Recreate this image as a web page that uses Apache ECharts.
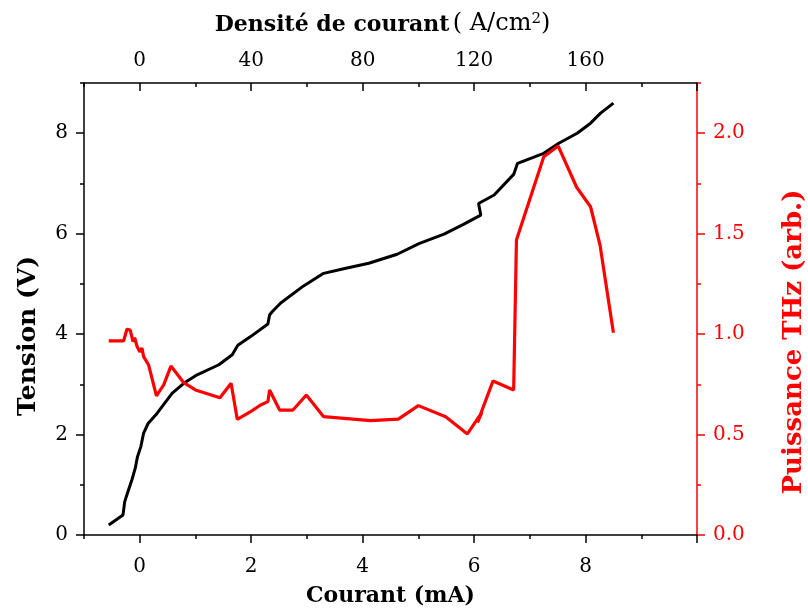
<!DOCTYPE html>
<html>
<head>
<meta charset="utf-8">
<script src="https://cdn.jsdelivr.net/npm/echarts@6/dist/echarts.min.js"></script>
<style>
  html, body { margin: 0; padding: 0; background: #fff; }
  #chart { width: 808px; height: 615px; }
</style>
</head>
<body>
<div id="chart"></div>
<script>
// Courant (mA) and tension (V) of the I–V curve
const currentV = [-0.556, -0.30, -0.27, -0.23, -0.14, -0.08, -0.04, 0.02, 0.07, 0.15, 0.31, 0.58, 0.79, 1.03, 1.42, 1.66, 1.76, 1.99, 2.30, 2.33, 2.38, 2.53, 2.94, 3.30, 3.66, 4.11, 4.62, 5.01, 5.46, 5.80, 6.12, 6.08, 6.36, 6.71, 6.78, 7.25, 7.52, 7.85, 8.09, 8.27, 8.50];
const tension = [0.20, 0.40, 0.66, 0.80, 1.10, 1.33, 1.56, 1.76, 2.03, 2.22, 2.42, 2.82, 3.02, 3.19, 3.39, 3.59, 3.78, 3.95, 4.20, 4.38, 4.45, 4.62, 4.96, 5.21, 5.30, 5.41, 5.59, 5.80, 5.99, 6.18, 6.37, 6.60, 6.77, 7.18, 7.40, 7.60, 7.80, 8.00, 8.20, 8.40, 8.60];

// Courant (mA) and THz power (arb.)
const currentP = [-0.556, -0.29, -0.23, -0.17, -0.12, -0.09, -0.05, 0.00, 0.04, 0.07, 0.16, 0.30, 0.43, 0.56, 0.79, 1.00, 1.44, 1.64, 1.75, 1.99, 2.17, 2.30, 2.33, 2.51, 2.75, 2.99, 3.30, 4.14, 4.64, 5.00, 5.49, 5.88, 6.14, 6.06, 6.34, 6.71, 6.76, 7.25, 7.51, 7.84, 8.09, 8.26, 8.50];
const puissance = [0.966, 0.966, 1.024, 1.020, 0.962, 0.982, 0.940, 0.912, 0.930, 0.888, 0.846, 0.693, 0.747, 0.841, 0.758, 0.722, 0.683, 0.755, 0.576, 0.614, 0.647, 0.664, 0.722, 0.622, 0.622, 0.697, 0.589, 0.569, 0.577, 0.644, 0.589, 0.503, 0.610, 0.560, 0.767, 0.722, 1.468, 1.883, 1.936, 1.731, 1.634, 1.443, 1.007];

// Axis tick positions and labels
const currentMajor = [0, 2, 4, 6, 8, 10];
const currentMinor = [-1, 1, 3, 5, 7, 9];
const currentLabels = [0, 2, 4, 6, 8];
const densityMajor = [0, 40, 80, 120, 160, 200];
const densityMinor = [-20, 20, 60, 100, 140, 180];
const densityLabels = [0, 40, 80, 120, 160];
const tensionMajor = [0, 2, 4, 6, 8];
const tensionMinor = [1, 3, 5, 7, 9];
const powerMajor = [0, 0.5, 1.0, 1.5, 2.0];
const powerMinor = [0.25, 0.75, 1.25, 1.75, 2.25];

const SERIF = '"DejaVu Serif", serif';
const BLACK = '#000000';
const RED = '#ff0000';

const zip = (xs, ys) => xs.map((x, i) => [x, ys[i]]);

const labelStyle = (color) => ({ fontFamily: SERIF, fontSize: 20, color: color });
const titleStyle = (color, size) => ({ fontFamily: SERIF, fontSize: size, fontWeight: 'bold', color: color });

// A tick-only companion axis that adds the short ticks between the labelled ones
function minorAxis(base, values, inside) {
  return Object.assign({}, base, {
    name: '',
    axisLine: { show: false, onZero: false },
    axisLabel: { show: false },
    axisTick: { show: true, inside: inside, length: 4, customValues: values, lineStyle: { color: base.axisLine.lineStyle.color, width: 1.5 } },
    splitLine: { show: false }
  });
}

const bottomAxis = {
  type: 'value', position: 'bottom', min: -1, max: 10, interval: 1,
  axisLine: { show: true, onZero: false, lineStyle: { color: BLACK, width: 1.5 } },
  axisTick: { show: true, inside: false, length: 8, customValues: currentMajor, lineStyle: { color: BLACK, width: 1.5 } },
  axisLabel: Object.assign(labelStyle(BLACK), { margin: 22, customValues: currentLabels }),
  splitLine: { show: false },
  name: 'Courant (mA)', nameLocation: 'middle', nameGap: 50,
  nameTextStyle: titleStyle(BLACK, 22)
};

const topAxis = {
  type: 'value', position: 'top', min: -20, max: 200, interval: 20,
  axisLine: { show: true, onZero: false, lineStyle: { color: BLACK, width: 1.5 } },
  axisTick: { show: true, inside: true, length: 8, customValues: densityMajor, lineStyle: { color: BLACK, width: 1.5 } },
  axisLabel: Object.assign(labelStyle(BLACK), { margin: 12, customValues: densityLabels }),
  splitLine: { show: false },
  name: '{b|Densité de courant} {r|( A/cm}{s|2}{r|)}', nameLocation: 'middle', nameGap: 47,
  nameTextStyle: {
    padding: [0, 16, 0, 0],
    rich: {
      b: { fontFamily: SERIF, fontSize: 22, fontWeight: 'bold', color: BLACK, verticalAlign: 'bottom' },
      r: { fontFamily: SERIF, fontSize: 24, color: BLACK, verticalAlign: 'bottom' },
      s: { fontFamily: SERIF, fontSize: 15, color: BLACK, verticalAlign: 'top' }
    }
  }
};

const leftAxis = {
  type: 'value', position: 'left', min: 0, max: 9, interval: 1,
  axisLine: { show: true, onZero: false, lineStyle: { color: BLACK, width: 1.5 } },
  axisTick: { show: true, inside: false, length: 8, customValues: tensionMajor, lineStyle: { color: BLACK, width: 1.5 } },
  axisLabel: Object.assign(labelStyle(BLACK), { margin: 16, customValues: tensionMajor }),
  splitLine: { show: false },
  name: 'Tension (V)', nameLocation: 'middle', nameGap: 43,
  nameTextStyle: Object.assign(titleStyle(BLACK, 25), { padding: [0, 54, 0, 0] })
};

const rightAxis = {
  type: 'value', position: 'right', min: 0, max: 2.25, interval: 0.25,
  axisLine: { show: true, onZero: false, lineStyle: { color: RED, width: 1.5 } },
  axisTick: { show: true, inside: false, length: 8, customValues: powerMajor, lineStyle: { color: RED, width: 1.5 } },
  axisLabel: Object.assign(labelStyle(RED), { margin: 16, customValues: powerMajor, formatter: (v) => v.toFixed(1) }),
  splitLine: { show: false },
  name: 'Puissance THz (arb.)', nameLocation: 'middle', nameGap: 84,
  nameTextStyle: Object.assign(titleStyle(RED, 26), { padding: [0, 66, 0, 0] })
};

const option = {
  animation: false,
  backgroundColor: '#ffffff',
  grid: { left: 84, right: 111, top: 83, bottom: 80, containLabel: false, outerBoundsMode: 'none' },
  xAxis: [
    bottomAxis,
    minorAxis(bottomAxis, currentMinor, false),
    topAxis,
    minorAxis(topAxis, densityMinor, true)
  ],
  yAxis: [
    leftAxis,
    minorAxis(leftAxis, tensionMinor, false),
    rightAxis,
    minorAxis(rightAxis, powerMinor, false)
  ],
  series: [
    {
      name: 'Tension', type: 'line', xAxisIndex: 0, yAxisIndex: 0,
      data: zip(currentV, tension), showSymbol: false, symbol: 'none',
      lineStyle: { color: BLACK, width: 3 }, z: 2
    },
    {
      name: 'Puissance THz', type: 'line', xAxisIndex: 0, yAxisIndex: 2,
      data: zip(currentP, puissance), showSymbol: false, symbol: 'none',
      lineStyle: { color: RED, width: 3.2 }, z: 3
    }
  ]
};

const chart = echarts.init(document.getElementById('chart'), null, { renderer: 'canvas' });
chart.setOption(option);
</script>
</body>
</html>
